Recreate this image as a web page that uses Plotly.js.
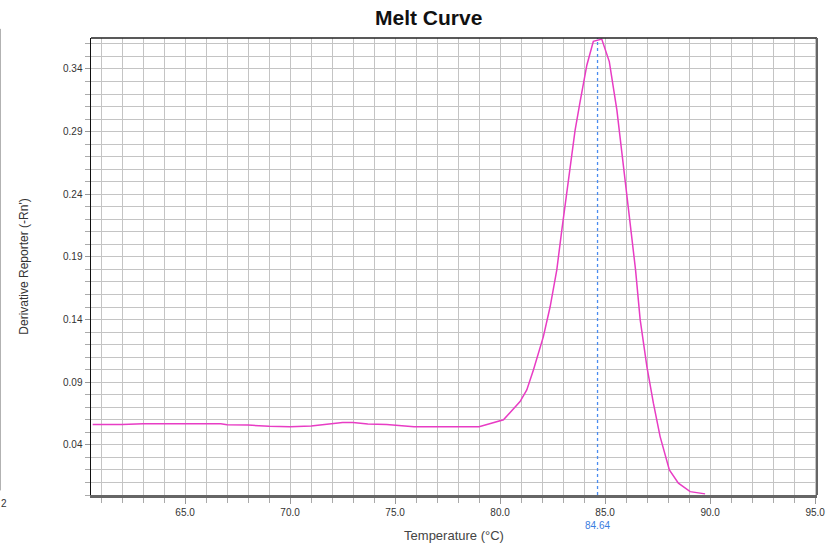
<!DOCTYPE html>
<html>
<head>
<meta charset="utf-8">
<script src="https://cdn.plot.ly/plotly-3.0.1.min.js"></script>
<style>html,body{margin:0;padding:0;background:#fff;}#chart{width:834px;height:544px;}</style>
</head>
<body>
<div id="chart"></div>
<script>
const temperature = [60.6, 62.0, 63.0, 64.0, 65.0, 66.0, 66.7, 67.0, 68.0, 69.0, 70.0, 71.0, 72.0, 72.5, 73.0, 73.7, 74.6, 75.0, 75.9, 77.0, 78.0, 79.0, 79.5, 80.16, 80.95, 81.27, 81.59, 82.06, 82.38, 82.70, 82.94, 83.33, 83.57, 83.81, 84.13, 84.44, 84.84, 85.20, 85.56, 85.95, 86.27, 86.45, 86.67, 86.99, 87.30, 87.62, 88.06, 88.49, 89.05, 89.76];
const derivative = [0.0562, 0.0562, 0.0568, 0.0568, 0.0568, 0.0568, 0.0568, 0.0561, 0.0558, 0.0548, 0.0544, 0.0550, 0.0568, 0.0578, 0.0578, 0.0566, 0.0563, 0.0556, 0.0545, 0.0544, 0.0544, 0.0545, 0.0568, 0.0600, 0.0746, 0.0839, 0.0999, 0.1264, 0.1500, 0.1797, 0.2116, 0.2595, 0.2910, 0.3140, 0.3430, 0.3620, 0.3638, 0.3459, 0.3074, 0.2515, 0.2062, 0.1797, 0.1400, 0.1025, 0.0733, 0.0466, 0.0200, 0.0094, 0.0027, 0.0009];
const peakTm = 84.64;
const xTickVals = [65, 70, 75, 80, 85, 90, 95];
const xTickText = ['65.0', '70.0', '75.0', '80.0', '85.0', '90.0', '95.0'];
const yTickVals = [0.04, 0.09, 0.14, 0.19, 0.24, 0.29, 0.34];
const yTickText = ['0.04', '0.09', '0.14', '0.19', '0.24', '0.29', '0.34'];

const traces = [{
  x: temperature, y: derivative, type: 'scatter', mode: 'lines',
  line: {color: '#e83cc4', width: 1.5}, hoverinfo: 'x+y', showlegend: false
}];

const layout = {
  width: 834, height: 544,
  margin: {l: 91, r: 17, t: 38, b: 49},
  paper_bgcolor: '#ffffff', plot_bgcolor: '#ffffff',
  font: {family: 'Liberation Sans, Arial, sans-serif', color: '#333'},
  title: {text: '<b>Melt Curve</b>', font: {size: 21, color: '#111', family: 'Liberation Sans, Arial, sans-serif'}, x: 0.514, xanchor: 'center', y: 0.968, yanchor: 'middle'},
  showlegend: false,
  xaxis: {
    range: [60.52, 95.09], tickvals: xTickVals, ticktext: xTickText,
    ticks: 'outside', ticklen: 6, tickcolor: '#999', tickwidth: 1,
    showgrid: true, gridcolor: '#c4c4c4', gridwidth: 1,
    minor: {dtick: 1, tick0: 60, showgrid: true, gridcolor: '#c4c4c4', gridwidth: 1, ticks: 'outside', ticklen: 5, tickcolor: '#aaa'},
    showline: true, linecolor: '#666', linewidth: 3, mirror: false,
    zeroline: false, tickfont: {size: 10, color: '#333'},
    title: {text: 'Temperature (°C)', font: {size: 13, color: '#444'}, standoff: 14}
  },
  yaxis: {
    range: [0, 0.3647], tickvals: yTickVals, ticktext: yTickText,
    ticks: 'outside', ticklen: 5, tickcolor: '#999', tickwidth: 1,
    showgrid: true, gridcolor: '#c4c4c4', gridwidth: 1,
    minor: {dtick: 0.01, tick0: 0, showgrid: true, gridcolor: '#c4c4c4', gridwidth: 1, ticks: 'outside', ticklen: 5, tickcolor: '#aaa'},
    showline: true, linecolor: '#111', linewidth: 1.5,
    zeroline: false, tickfont: {size: 10, color: '#333'},
    title: {text: "Derivative Reporter (-Rn')", font: {size: 12, color: '#333'}, standoff: 32}
  },
  shapes: [
    {type: 'line', xref: 'x', yref: 'paper', x0: peakTm, x1: peakTm, y0: 0, y1: 1,
     line: {color: '#4a8cf0', width: 1.3, dash: 'dot'}},
    {type: 'line', xref: 'paper', yref: 'paper', x0: 0, x1: 1, y0: 1, y1: 1,
     line: {color: '#222', width: 1.5}},
    {type: 'line', xref: 'paper', yref: 'paper', x0: 1, x1: 1, y0: 0, y1: 1,
     line: {color: '#666', width: 2}},
    {type: 'line', xref: 'paper', yref: 'paper', x0: -0.1250, x1: -0.1250, y0: 0.01, y1: 1.02,
     line: {color: '#999', width: 1}}
  ],
  annotations: [
    {text: peakTm.toFixed(2), xref: 'x', yref: 'paper', x: peakTm, y: -0.066, showarrow: false,
     font: {size: 10, color: '#3a7de0'}, xanchor: 'center', yanchor: 'middle'},
    {text: '2', xref: 'paper', yref: 'paper', x: -0.1262, y: -0.018, showarrow: false,
     font: {size: 10, color: '#333'}, xanchor: 'left', yanchor: 'middle'}
  ]
};

Plotly.newPlot('chart', traces, layout, {displayModeBar: false, staticPlot: true});
</script>
</body>
</html>
